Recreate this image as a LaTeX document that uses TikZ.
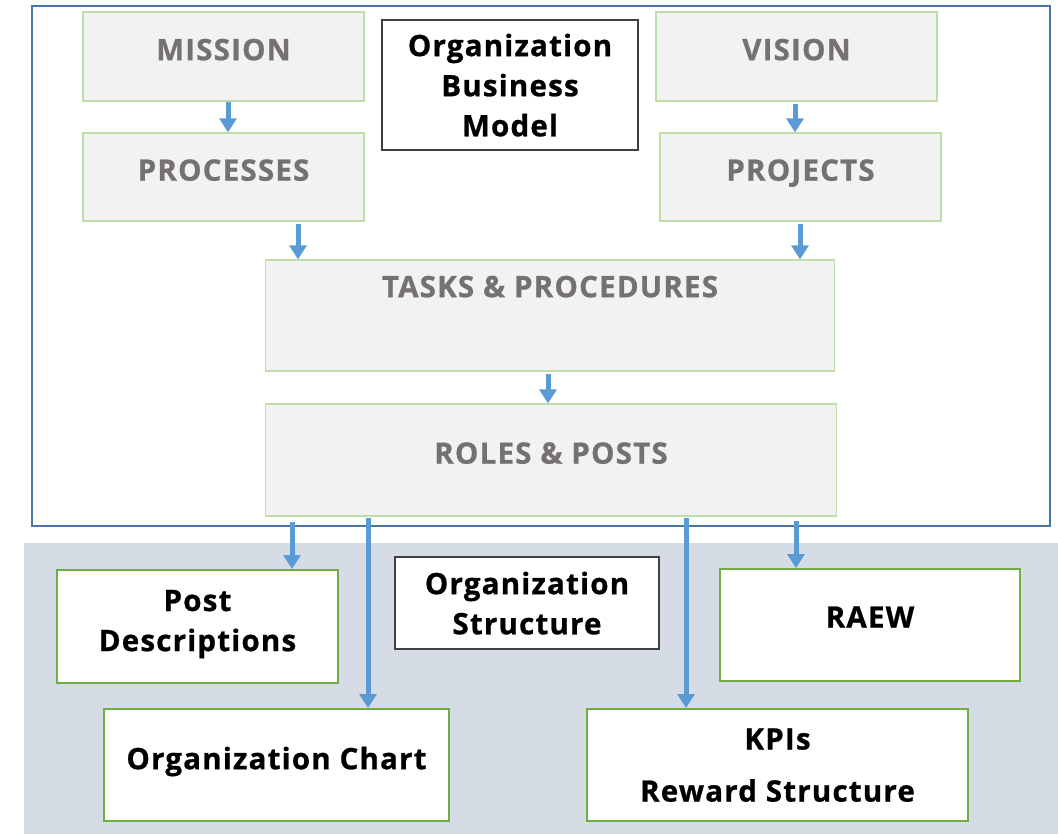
\documentclass[tikz,border=0pt]{standalone}
\usepackage{fontspec}
\setmainfont{Open Sans}[LetterSpace=4,BoldFeatures={FakeBold=0.8}]
\usetikzlibrary{arrows.meta,positioning}

\definecolor{arrowblue}{HTML}{5B9BD5}
\definecolor{frameblue}{HTML}{4A76A8}
\definecolor{lowfill}{HTML}{D6DCE5}
\definecolor{boxfill}{HTML}{F2F2F2}
\definecolor{boxgreen}{HTML}{BFDDAA}
\definecolor{lowgreen}{HTML}{70AD47}
\definecolor{greytext}{HTML}{767171}

\newcommand{\boxfont}{\fontsize{21}{28.5}\selectfont\bfseries}

\begin{document}
\begin{tikzpicture}[x=0.025cm,y=-0.025cm,
  topbox/.style={rectangle,draw=boxgreen,fill=boxfill,line width=0.8pt,
    text=greytext,font=\boxfont,inner sep=0pt,text depth=0.35cm},
  lowbox/.style={rectangle,draw=lowgreen,fill=white,line width=1.3pt,
    font=\boxfont,align=center,inner sep=0pt},
  titlebox/.style={rectangle,draw=black!75,fill=white,line width=0.8pt,
    font=\boxfont,align=center,inner sep=0pt,text depth=0pt},
  flow/.style={draw=arrowblue,line width=0.125cm,
    -{Triangle[length=0.35cm,width=0.42cm]}}]

  \useasboundingbox (0,0) rectangle (1058,834);

  % two areas
  \fill[lowfill] (24,543) rectangle (1058,834);
  \draw[frameblue,line width=1pt,fill=white] (32,6) rectangle (1050,526);

  % business model part
  \node[topbox,minimum width=7.025cm,minimum height=2.225cm] (mission) at (223.5,56.5) {MISSION};
  \node[topbox,minimum width=7.025cm,minimum height=2.2cm] (processes) at (223.5,177) {PROCESSES};
  \node[topbox,minimum width=7.025cm,minimum height=2.225cm] (vision) at (796.5,56.5) {VISION};
  \node[topbox,minimum width=7.025cm,minimum height=2.2cm] (projects) at (800.5,177) {PROJECTS};
  \node[titlebox,minimum width=6.4cm,minimum height=3.25cm] (model) at (510,85)
    {Organization\\Business\\Model};
  \node[topbox,minimum width=14.2cm,minimum height=2.775cm,text depth=1.45cm] (tasks) at (550,315.5)
    {TASKS \& PROCEDURES};
  \node[topbox,minimum width=14.25cm,minimum height=2.8cm] (roles) at (551,460) {ROLES \& POSTS};

  % structure part
  \node[lowbox,minimum width=7.025cm,minimum height=2.825cm,text depth=0.3cm] (postdesc) at (197.5,626.5)
    {Post\\Descriptions};
  \node[titlebox,minimum width=6.6cm,minimum height=2.3cm] (structure) at (527,603)
    {Organization\\Structure};
  \node[lowbox,minimum width=7.5cm,minimum height=2.8cm,text depth=0.4cm] (raew) at (870,625) {RAEW};
  \node[lowbox,minimum width=8.625cm,minimum height=2.8cm,text depth=0.35cm] (chart) at (276.5,765)
    {Organization Chart};
  \node[lowbox,minimum width=9.525cm,minimum height=2.8cm,text depth=0pt] (kpis) at (777.5,765)
    {KPIs\\[0.3cm]Reward Structure};

  % arrow columns
  \coordinate (c1) at (228,0);
  \coordinate (c2) at (795,0);
  \coordinate (c3) at (298,0);
  \coordinate (c4) at (800,0);
  \coordinate (c5) at (548,0);
  \coordinate (c6) at (292,0);
  \coordinate (c7) at (368,0);
  \coordinate (c8) at (686,0);
  \coordinate (c9) at (796,0);

  \draw[flow] (mission.south -| c1) -- (processes.north -| c1);
  \draw[flow,shorten <=2pt] (vision.south -| c2) -- (projects.north -| c2);
  \draw[flow,shorten <=2pt] (processes.south -| c3) -- (tasks.north -| c3);
  \draw[flow,shorten <=2pt] (projects.south -| c4) -- (tasks.north -| c4);
  \draw[flow,shorten <=2pt] (tasks.south -| c5) -- (roles.north -| c5);
  \draw[flow,shorten <=4pt] (roles.south -| c6) -- (postdesc.north -| c6);
  \draw[flow,shorten <=1pt] (roles.south -| c7) -- (chart.north -| c7);
  \draw[flow,shorten <=1pt] (roles.south -| c8) -- (kpis.north -| c8);
  \draw[flow,shorten <=3pt] (roles.south -| c9) -- (raew.north -| c9);
\end{tikzpicture}
\end{document}
